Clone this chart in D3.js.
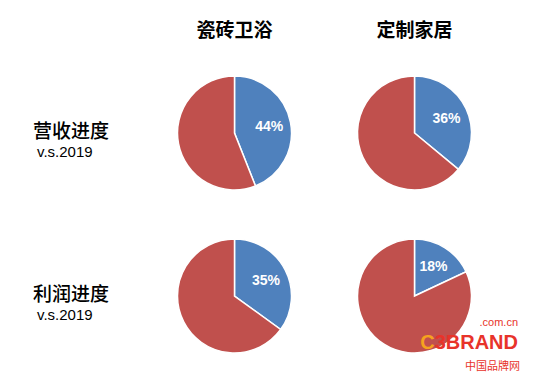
<!DOCTYPE html>
<html>
<head>
<meta charset="utf-8">
<script src="https://cdn.jsdelivr.net/npm/d3@7"></script>
<style>
  body { margin: 0; background: #fff; }
</style>
</head>
<body>
<div class="chart"></div>
<script>
// data
const columns = ["瓷砖卫浴", "定制家居"]
const rows = ["营收进度", "利润进度"]
const rowSub = "v.s.2019"
const revenue = [44, 36]   // % of 2019, per column
const profit = [35, 18]
const seriesByRow = [revenue, profit]

const width = 538
const height = 381
const radius = 57

let x = d3.scalePoint()
  .domain(columns)
  .range([234.5, 414.5])

let y = d3.scalePoint()
  .domain(rows)
  .range([133, 296])

const pie = d3.pie().sort(null).startAngle(0).endAngle(2 * Math.PI)
const arc = d3.arc().innerRadius(0).outerRadius(radius)
const labelArc = d3.arc().innerRadius(radius * 0.62).outerRadius(radius * 0.62)
const colors = ["#4F81BD", "#C0504D"]

const svg = d3.select('.chart').append("svg")
  .attr("width", width)
  .attr("height", height)
  .attr("viewBox", [0, 0, width, height])

// column titles
svg.append("g")
    .attr("font-family", "'Noto Sans CJK SC', sans-serif")
    .attr("font-weight", "bold")
    .attr("font-size", 19)
    .attr("text-anchor", "middle")
  .selectAll("text")
  .data(columns)
  .join("text")
    .attr("x", d => x(d))
    .attr("y", 37)
    .text(d => d)

// row labels
const rowG = svg.append("g")
  .selectAll("g")
  .data(rows)
  .join("g")
    .attr("transform", d => `translate(71,${y(d)})`)

rowG.append("text")
    .attr("text-anchor", "middle")
    .attr("font-family", "'Noto Sans CJK SC', sans-serif")
    .attr("font-weight", 500)
    .attr("font-size", 19)
    .attr("y", 5)
    .text(d => d)

rowG.append("text")
    .attr("x", -34)
    .attr("y", 24)
    .attr("font-family", "'Liberation Sans', Arial, sans-serif")
    .attr("font-size", 15)
    .text(rowSub)

// pies
rows.forEach((r, ri) => {
  seriesByRow[ri].forEach((v, ci) => {
    const g = svg.append("g")
      .attr("transform", `translate(${x(columns[ci])},${y(r)})`)
    const arcs = pie([v, 100 - v])
    g.selectAll("path")
      .data(arcs)
      .join("path")
        .attr("d", arc)
        .attr("fill", (d, i) => colors[i])
        .attr("stroke", "#fff")
        .attr("stroke-width", 1.5)
    g.append("text")
      .datum(arcs[0])
      .attr("transform", d => `translate(${labelArc.centroid(d)})`)
      .attr("text-anchor", "middle")
      .attr("dy", "0.35em")
      .attr("fill", "#fff")
      .attr("font-family", "'Liberation Sans', Arial, sans-serif")
      .attr("font-weight", "bold")
      .attr("font-size", 14)
      .text(d => d.data + "%")
  })
})

// watermark
const wm = svg.append("g")
  .attr("font-family", "'Liberation Sans', Arial, sans-serif")
wm.append("text")
  .attr("x", 518).attr("y", 326)
  .attr("text-anchor", "end")
  .attr("font-size", 11)
  .attr("fill", "#E8332A")
  .text(".com.cn")
const brand = wm.append("text")
  .attr("x", 518).attr("y", 349)
  .attr("text-anchor", "end")
  .attr("font-size", 20)
  .attr("font-weight", "bold")
brand.append("tspan").attr("fill", "#F6A21E").text("C")
brand.append("tspan").attr("fill", "#E8332A").text("3BRAND")
wm.append("text")
  .attr("x", 520).attr("y", 370)
  .attr("text-anchor", "end")
  .attr("font-family", "'Noto Sans CJK SC', sans-serif")
  .attr("font-size", 11)
  .attr("fill", "#E8332A")
  .text("中国品牌网")
</script>
</body>
</html>
